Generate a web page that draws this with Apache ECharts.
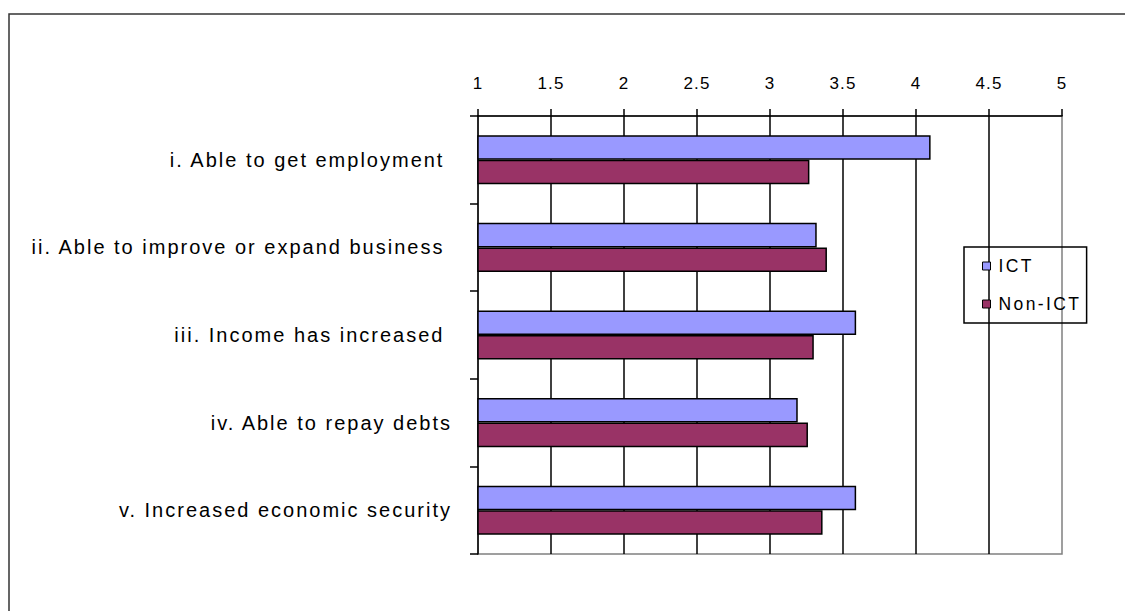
<!DOCTYPE html>
<html>
<head>
<meta charset="utf-8">
<title>ICT vs Non-ICT outcomes</title>
<script src="https://cdn.jsdelivr.net/npm/echarts@6/dist/echarts.min.js"></script>
<style>
  html, body { margin: 0; padding: 0; background: #fff; }
  #chart { width: 1125px; height: 611px; }
  /* slightly loose lettering of the category, tick and legend texts */
  #chart svg text[style*="20px"] { letter-spacing: 2px; }
  #chart svg text[style*="17px"] { letter-spacing: 1.2px; }
  #chart svg text[style*="17.5px"] { letter-spacing: 2.4px; }
</style>
</head>
<body>
<div id="chart"></div>
<script>
// Outcome statements (top to bottom)
var categories = [
  'i. Able to get employment ',
  'ii. Able to improve or expand business ',
  'iii. Income has increased ',
  'iv. Able to repay debts',
  'v. Increased economic security'
];
// Mean scores per group
var ictValues = [4.10, 3.32, 3.59, 3.19, 3.59];
var nonIctValues = [3.27, 3.39, 3.30, 3.26, 3.36];
var seriesNames = ['ICT', 'Non-ICT'];

var chart = echarts.init(document.getElementById('chart'), null, { renderer: 'svg' });
var font = 'Liberation Sans, Arial, sans-serif';

chart.setOption({
  backgroundColor: '#fff',
  animation: false,
  graphic: [{
    type: 'rect',
    shape: { x: 9, y: 14, width: 1300, height: 800 },
    style: { fill: 'none', stroke: '#333', lineWidth: 1.5 },
    silent: true
  }],
  grid: {
    left: 478, top: 116, right: 63, bottom: 57,
    show: true, borderColor: '#808080', borderWidth: 1.5,
    backgroundColor: 'transparent'
  },
  legend: {
    orient: 'vertical',
    left: 964, top: 247,
    padding: [10, 22, 10, 18],
    itemGap: 20,
    itemWidth: 8, itemHeight: 8,
    borderColor: '#000', borderWidth: 1.5,
    icon: 'rect',
    textStyle: { fontFamily: font, fontSize: 17.5, color: '#000', padding: [0, 0, 0, 3] },
    data: [
      { name: seriesNames[0], itemStyle: { borderColor: '#000', borderWidth: 1 } },
      { name: seriesNames[1], itemStyle: { borderColor: '#000', borderWidth: 1 } }
    ]
  },
  xAxis: {
    type: 'value',
    position: 'top',
    min: 1, max: 5, interval: 0.5,
    axisLine: { show: true, lineStyle: { color: '#000', width: 1.5 } },
    axisTick: { show: true, length: 7, lineStyle: { color: '#000', width: 1.5 } },
    axisLabel: { fontFamily: font, fontSize: 17, color: '#000', margin: 24 },
    splitLine: { show: true, showMinLine: false, showMaxLine: false, lineStyle: { color: '#000', width: 1.5 } }
  },
  yAxis: {
    type: 'category',
    inverse: true,
    data: categories,
    axisLine: { show: true, lineStyle: { color: '#000', width: 1.5 } },
    axisTick: { show: true, length: 8, lineStyle: { color: '#000', width: 1.5 } },
    axisLabel: { fontFamily: font, fontSize: 20, color: '#000', margin: 26 },
    splitLine: { show: false }
  },
  series: [
    {
      name: seriesNames[0], type: 'bar', data: ictValues,
      barGap: '0%', barCategoryGap: '44%',
      itemStyle: { color: '#9999FF', borderColor: '#000', borderWidth: 1.5 }
    },
    {
      name: seriesNames[1], type: 'bar', data: nonIctValues,
      barGap: '0%', barCategoryGap: '44%',
      itemStyle: { color: '#993366', borderColor: '#000', borderWidth: 1.5 }
    }
  ]
});
</script>
</body>
</html>
